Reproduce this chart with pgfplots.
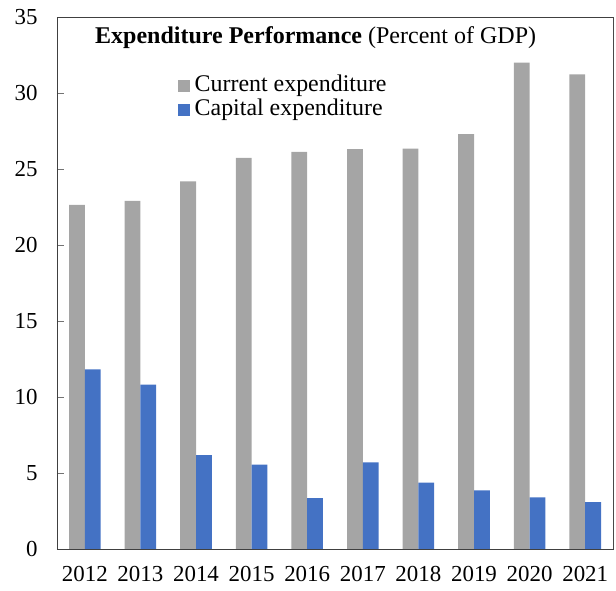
\documentclass[border=0pt]{standalone}
\usepackage{pgfplots}
\pgfplotsset{compat=1.18}
\usepackage{fontspec}
\setmainfont{Liberation Serif}

\definecolor{curgray}{HTML}{A5A5A5}
\definecolor{capblue}{HTML}{4472C4}

\pgfplotstableread{
x year current capital
0 2012 22.64 11.81
1 2013 22.91 10.81
2 2014 24.19 6.17
3 2015 25.73 5.55
4 2016 26.12 3.35
5 2017 26.30 5.70
6 2018 26.34 4.36
7 2019 27.29 3.85
8 2020 32.00 3.39
9 2021 31.23 3.08
}\expdata

\begin{document}
\begin{tikzpicture}
  \begin{axis}[
    scale only axis,
    width=556bp,
    height=532bp,
    ybar=0pt,
    bar width=0.284,
    xmin=-0.5, xmax=9.5,
    ymin=0, ymax=35,
    ytick={0,5,...,35},
    ytick pos=left,
    xtick=data,
    xticklabels={2012,2013,2014,2015,2016,2017,2018,2019,2020,2021},
    x tick style={draw=none},
    y tick style={black!55, line width=0.8pt},
    tick align=inside,
    major tick length=7bp,
    axis line style={black!75, line width=0.9pt},
    /pgf/number format/assume math mode=true,
    tick label style={font=\fontsize{23}{26}\selectfont},
    yticklabel style={xshift=-16bp},
    xticklabel style={yshift=-14bp},
    legend cell align=left,
    legend style={
      draw=none, fill=none, inner sep=0pt,
      at={(axis description cs:0.2176,0.895)}, anchor=north west,
      font=\fontsize{24}{26}\selectfont,
      row sep=3bp,
      nodes={inner sep=1.5bp},
      /tikz/every odd column/.append style={column sep=3bp},
    },
    legend image code/.code={\fill[#1] (0bp,-8bp) rectangle (12bp,4bp);},
  ]
    \addplot[fill=curgray, draw=none] table[x=x, y=current] {\expdata};
    \addplot[fill=capblue, draw=none] table[x=x, y=capital] {\expdata};
    \legend{Current expenditure, Capital expenditure}
    \node[anchor=base west, inner sep=0pt, font=\fontsize{24.1}{26}\selectfont]
      at (axis description cs:0.0683,0.951)
      {\textbf{Expenditure Performance} (Percent of GDP)};
    \draw[black!45, line width=0.9pt] (rel axis cs:1,0) -- (rel axis cs:1,1);
  \end{axis}
  \pgfresetboundingbox
  \path[use as bounding box] (current axis.south west) ++(-57bp,-42bp) rectangle ++(616bp,591bp);
\end{tikzpicture}
\end{document}
